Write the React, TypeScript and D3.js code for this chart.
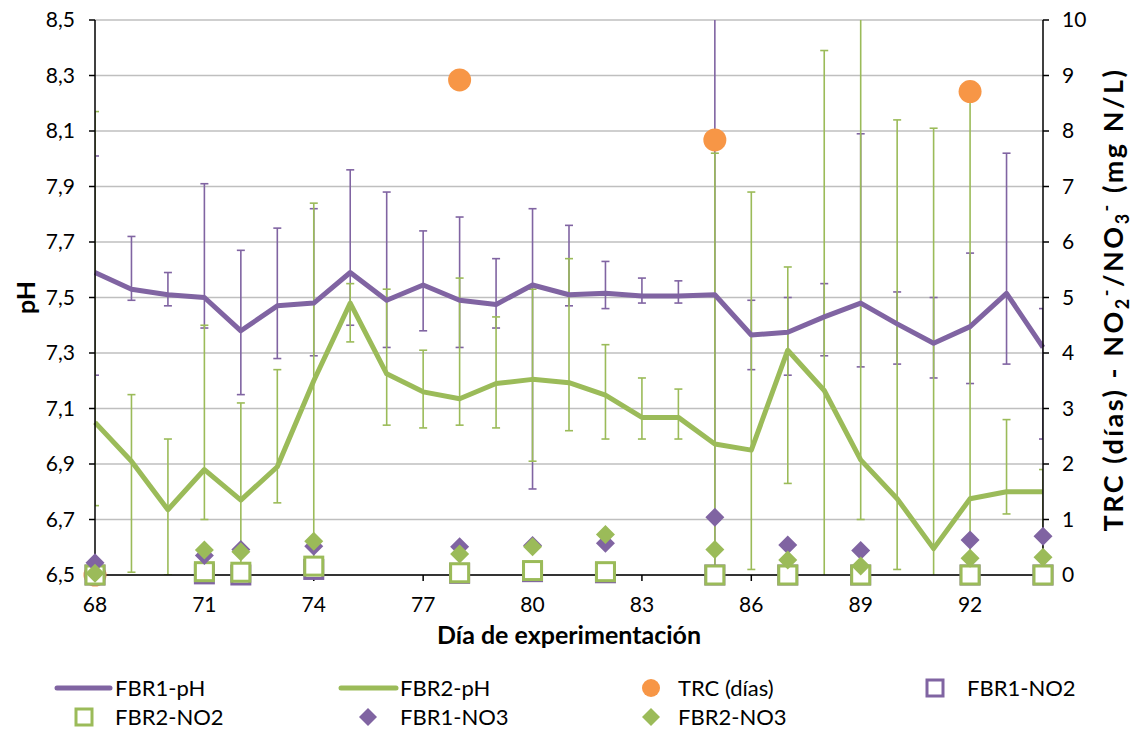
import * as d3 from "d3";

// día de experimentación (categorías del eje X)
const days = [68, 69, 70, 71, 72, 73, 74, 75, 76, 77, 78, 79, 80, 81, 82, 83, 84, 85, 86, 87, 88, 89, 90, 91, 92, 93, 94];

// pH medio por reactor
const fbr1pH = [7.59, 7.53, 7.51, 7.5, 7.38, 7.47, 7.48, 7.59, 7.49, 7.545, 7.49, 7.475, 7.545, 7.51, 7.515, 7.505, 7.505, 7.51, 7.365, 7.375, 7.43, 7.48, 7.405, 7.335, 7.395, 7.515, 7.32];
const fbr2pH = [7.05, 6.91, 6.735, 6.88, 6.77, 6.89, 7.2, 7.48, 7.225, 7.16, 7.135, 7.19, 7.205, 7.193, 7.148, 7.068, 7.068, 6.972, 6.95, 7.31, 7.165, 6.915, 6.775, 6.595, 6.775, 6.8, 6.8];

// extremos de las barras de error (pH)
const fbr1Hi = [8.01, 7.72, 7.59, 7.91, 7.67, 7.75, 7.82, 7.96, 7.88, 7.74, 7.79, 7.64, 7.82, 7.76, 7.63, 7.57, 7.56, 8.7, 7.49, 7.5, 7.55, 8.09, 7.52, 7.5, 7.66, 8.02, 7.46];
const fbr1Lo = [7.22, 7.49, 7.47, 7.39, 7.15, 7.28, 7.29, 7.4, 7.32, 7.38, 7.32, 7.39, 6.81, 7.47, 7.46, 7.48, 7.48, 6.3, 7.24, 7.22, 7.29, 7.25, 7.26, 7.21, 7.19, 7.26, 6.99];
const fbr2Hi = [8.17, 7.15, 6.99, 7.4, 7.12, 7.24, 7.84, 7.55, 7.53, 7.31, 7.57, 7.43, 7.53, 7.64, 7.33, 7.21, 7.17, 8.02, 7.88, 7.61, 8.39, 8.7, 8.14, 8.11, 8.25, 7.06, 6.88];
const fbr2Lo = [6.75, 6.51, 6.5, 6.7, 6.3, 6.76, 6.3, 7.34, 7.04, 7.03, 7.04, 7.03, 6.91, 7.02, 6.99, 6.99, 6.99, 6.3, 6.52, 6.83, 6.3, 6.7, 6.52, 6.3, 6.3, 6.72, 6.3];

// eje secundario
const trcDays = [68, 78, 85, 92];
const trc = [0, 8.92, 7.84, 8.71];

const sampleDays = [68, 71, 72, 74, 78, 80, 82, 85, 87, 89, 92, 94];
const fbr1NO2 = [0, 0.02, 0, 0.1, 0.03, 0.06, 0.04, 0, 0, 0, 0, 0];
const fbr2NO2 = [0, 0.06, 0.05, 0.16, 0.04, 0.08, 0.06, 0, 0, 0, 0, 0];
const fbr1NO3 = [0.22, 0.35, 0.46, 0.52, 0.51, 0.53, 0.57, 1.04, 0.54, 0.44, 0.63, 0.7];
const fbr2NO3 = [0.03, 0.45, 0.42, 0.61, 0.38, 0.51, 0.73, 0.46, 0.27, 0.16, 0.3, 0.32];

const pHTicks = [6.5, 6.7, 6.9, 7.1, 7.3, 7.5, 7.7, 7.9, 8.1, 8.3, 8.5];
const rightTicks = [0, 1, 2, 3, 4, 5, 6, 7, 8, 9, 10];
const dayTicks = [68, 71, 74, 77, 80, 83, 86, 89, 92];

const PURPLE = "#8064A2";
const GREEN = "#9BBB59";
const ORANGE = "#F79646";
const GRID = "#BFBFBF";
const FONT = "Lato, 'Open Sans', sans-serif";

const W = 1133;
const H = 731;
const left = 95;
const right = 1043;
const top = 20;
const bottom = 575;

function diamond(cx: number, cy: number, r: number) {
  return `M${cx},${cy - r}L${cx + r},${cy}L${cx},${cy + r}L${cx - r},${cy}Z`;
}

export default function App() {
  const x = d3.scaleLinear().domain([68, 94]).range([left, right]);
  const y = d3.scaleLinear().domain([6.5, 8.5]).range([bottom, top]);
  const y2 = d3.scaleLinear().domain([0, 10]).range([bottom, top]);

  const line = d3
    .line<number>()
    .x((_, i) => x(days[i]))
    .y((v) => y(v));

  const errorBars = (hi: number[], lo: number[], color: string, key: string) =>
    days.map((d, i) => {
      const cx = x(d);
      return (
        <g key={`${key}-${d}`} stroke={color} strokeWidth={1.6}>
          <line x1={cx} x2={cx} y1={y(hi[i])} y2={y(lo[i])} />
          <line x1={cx - 4} x2={cx + 4} y1={y(hi[i])} y2={y(hi[i])} />
          <line x1={cx - 4} x2={cx + 4} y1={y(lo[i])} y2={y(lo[i])} />
        </g>
      );
    });

  const legendRow1 = 688;
  const legendRow2 = 717;

  return (
    <svg width={W} height={H} style={{ position: "absolute", left: 0, top: 0 }} fontFamily={FONT}>
      <defs>
        <clipPath id="plot">
          <rect x={left} y={top} width={right - left} height={bottom - top} />
        </clipPath>
      </defs>
      <rect width={W} height={H} fill="white" />

      {/* rejilla */}
      {pHTicks.map((t) => (
        <line key={`g${t}`} x1={left} x2={right} y1={y(t)} y2={y(t)} stroke={GRID} strokeWidth={1.5} />
      ))}

      {/* barras de error y líneas de pH */}
      <g clipPath="url(#plot)">
        {errorBars(fbr1Hi, fbr1Lo, PURPLE, "e1")}
        {errorBars(fbr2Hi, fbr2Lo, GREEN, "e2")}
      </g>
      <path d={line(fbr1pH) ?? ""} fill="none" stroke={PURPLE} strokeWidth={5} strokeLinejoin="round" />
      <path d={line(fbr2pH) ?? ""} fill="none" stroke={GREEN} strokeWidth={5} strokeLinejoin="round" />

      {/* ejes */}
      <line x1={left} x2={left} y1={top} y2={bottom} stroke="black" strokeWidth={1.5} />
      <line x1={right} x2={right} y1={top} y2={bottom} stroke="black" strokeWidth={1.5} />
      <line x1={left} x2={right} y1={bottom} y2={bottom} stroke="black" strokeWidth={1.5} />
      {pHTicks.map((t) => (
        <g key={`lt${t}`}>
          <line x1={left - 6} x2={left} y1={y(t)} y2={y(t)} stroke="black" strokeWidth={1.5} />
          <text x={75} y={y(t)} dy="0.35em" textAnchor="end" fontSize={21} fill="#000">
            {d3.format(".1f")(t).replace(".", ",")}
          </text>
        </g>
      ))}
      {rightTicks.map((t) => (
        <g key={`rt${t}`}>
          <line x1={right} x2={right + 6} y1={y2(t)} y2={y2(t)} stroke="black" strokeWidth={1.5} />
          <text x={1062} y={y2(t)} dy="0.35em" textAnchor="start" fontSize={21} fill="#000">
            {t}
          </text>
        </g>
      ))}
      {dayTicks.map((t) => (
        <g key={`xt${t}`}>
          <line x1={x(t)} x2={x(t)} y1={bottom} y2={bottom + 6} stroke="black" strokeWidth={1.5} />
          <text x={x(t)} y={612} textAnchor="middle" fontSize={21} fill="#000">
            {t}
          </text>
        </g>
      ))}

      {/* eje secundario: TRC, NO2, NO3 */}
      {trcDays.map((d, i) => (
        <circle key={`trc${d}`} cx={x(d)} cy={y2(trc[i])} r={11.5} fill={ORANGE} />
      ))}
      {sampleDays.map((d, i) => (
        <rect key={`n21${d}`} x={x(d) - 9} y={y2(fbr1NO2[i]) - 9} width={18} height={18} fill="white" stroke={PURPLE} strokeWidth={3} />
      ))}
      {sampleDays.map((d, i) => (
        <rect key={`n22${d}`} x={x(d) - 9} y={y2(fbr2NO2[i]) - 9} width={18} height={18} fill="white" stroke={GREEN} strokeWidth={3} />
      ))}
      {sampleDays.map((d, i) => (
        <path key={`n31${d}`} d={diamond(x(d), y2(fbr1NO3[i]), 9.5)} fill={PURPLE} />
      ))}
      {sampleDays.map((d, i) => (
        <path key={`n32${d}`} d={diamond(x(d), y2(fbr2NO3[i]), 9.5)} fill={GREEN} />
      ))}

      {/* títulos de ejes */}
      <text x={(left + right) / 2} y={644} textAnchor="middle" fontSize={25} fontWeight="bold" fill="#000">
        Día de experimentación
      </text>
      <text transform={`translate(35,${(top + bottom) / 2}) rotate(-90)`} textAnchor="middle" fontSize={25} fontWeight="bold" fill="#000">
        pH
      </text>
      <text
        transform={`translate(1123,${(top + bottom) / 2 + 2}) rotate(-90)`}
        textAnchor="middle"
        fontSize={27}
        letterSpacing={2.5}
        fontWeight="bold"
        fill="#000"
      >
        TRC (días) - NO
        <tspan dy={6} fontSize={18}>2</tspan>
        <tspan dy={-16} fontSize={18}>-</tspan>
        <tspan dy={10}>/NO</tspan>
        <tspan dy={6} fontSize={18}>3</tspan>
        <tspan dy={-16} fontSize={18}>-</tspan>
        <tspan dy={10}> (mg N/L)</tspan>
      </text>

      {/* leyenda */}
      <g fontSize={22} fill="#000">
        <line x1={57} x2={110} y1={legendRow1} y2={legendRow1} stroke={PURPLE} strokeWidth={5} strokeLinecap="round" />
        <text x={115} y={legendRow1} dy="0.35em">FBR1-pH</text>
        <line x1={341} x2={396} y1={legendRow1} y2={legendRow1} stroke={GREEN} strokeWidth={5} strokeLinecap="round" />
        <text x={400} y={legendRow1} dy="0.35em">FBR2-pH</text>
        <circle cx={651} cy={legendRow1} r={9} fill={ORANGE} />
        <text x={678} y={legendRow1} dy="0.35em">TRC (días)</text>
        <rect x={927} y={legendRow1 - 8} width={16} height={16} fill="white" stroke={PURPLE} strokeWidth={3} />
        <text x={967} y={legendRow1} dy="0.35em">FBR1-NO2</text>

        <rect x={76} y={legendRow2 - 8} width={16} height={16} fill="white" stroke={GREEN} strokeWidth={3} />
        <text x={115} y={legendRow2} dy="0.35em">FBR2-NO2</text>
        <path d={diamond(368, legendRow2, 9)} fill={PURPLE} />
        <text x={400} y={legendRow2} dy="0.35em">FBR1-NO3</text>
        <path d={diamond(651, legendRow2, 9)} fill={GREEN} />
        <text x={678} y={legendRow2} dy="0.35em">FBR2-NO3</text>
      </g>
    </svg>
  );
}
